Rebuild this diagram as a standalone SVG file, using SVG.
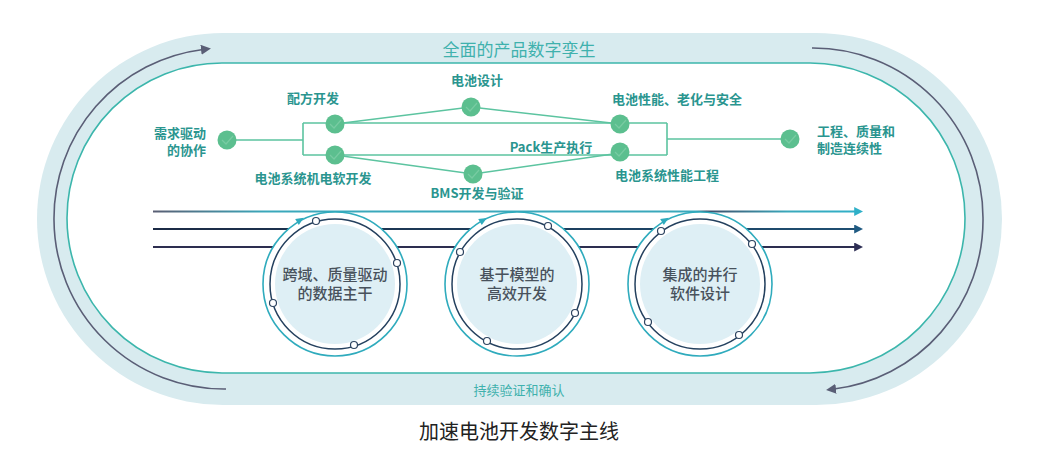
<svg xmlns="http://www.w3.org/2000/svg" width="1054" height="471" viewBox="0 0 1054 471">
<defs>
<style>
.lbl{font-family:"Noto Sans CJK SC","Noto Sans",sans-serif;font-size:13px;font-weight:700;fill:#2a958f}
.ctxt{font-family:"Noto Sans CJK SC","Noto Sans",sans-serif;font-size:15px;font-weight:500;fill:#48525c;text-anchor:middle}
.band{font-family:"Noto Sans CJK SC","Noto Sans",sans-serif;fill:#3fb1ad;text-anchor:middle}
.flow{fill:none;stroke:#5cc4a0;stroke-width:1.6}
.node{fill:#5cbf8f}
.chk{fill:none;stroke:#78cba2;stroke-width:1.2}
.arc{fill:none;stroke:#5a5e76;stroke-width:1.6}
.ring{fill:#fff;stroke:#2fabbd;stroke-width:1.6}
.dring{fill:none;stroke:#24405e;stroke-width:1.5}
.core{fill:#deeff5}
.dot{fill:#fff;stroke:#2d4460;stroke-width:1.2}
.tip{fill:#2fabbd}
</style>
<marker id="mGray" viewBox="0 0 10 10" refX="2" refY="5" markerWidth="10" markerHeight="10" markerUnits="userSpaceOnUse" orient="auto"><path d="M0,0 L10,5 L0,10 z" fill="#5a5e76"/></marker>
<marker id="mTeal" viewBox="0 0 10 10" refX="2" refY="5" markerWidth="9" markerHeight="9" markerUnits="userSpaceOnUse" orient="auto"><path d="M0,0 L10,5 L0,10 z" fill="#2fb0c8"/></marker>
<marker id="mBlue" viewBox="0 0 10 10" refX="2" refY="5" markerWidth="9" markerHeight="9" markerUnits="userSpaceOnUse" orient="auto"><path d="M0,0 L10,5 L0,10 z" fill="#1f5a82"/></marker>
<marker id="mNavy" viewBox="0 0 10 10" refX="2" refY="5" markerWidth="9" markerHeight="9" markerUnits="userSpaceOnUse" orient="auto"><path d="M0,0 L10,5 L0,10 z" fill="#2e2f55"/></marker>
<linearGradient id="gTop" gradientUnits="userSpaceOnUse" x1="153" y1="0" x2="858" y2="0">
<stop offset="0" stop-color="#5a5e73"/>
<stop offset="0.16" stop-color="#3aa8bb"/>
<stop offset="0.77" stop-color="#3aa8bb"/>
<stop offset="0.785" stop-color="#3d4b68"/>
<stop offset="0.9" stop-color="#3aa8bb"/>
<stop offset="1" stop-color="#2fb0c8"/>
</linearGradient>
<linearGradient id="gMid" gradientUnits="userSpaceOnUse" x1="153" y1="0" x2="858" y2="0">
<stop offset="0" stop-color="#1b2a45"/>
<stop offset="1" stop-color="#1f4f72"/>
</linearGradient>
</defs>

<g id="background">
<rect x="37" y="33" width="965" height="372" rx="186" ry="186" fill="#d8ebef"/>
<rect x="67" y="63" width="898" height="310" rx="155" ry="155" fill="#fff" stroke="#3cb6ac" stroke-width="1.6"/>
<text class="band" x="519" y="56" font-size="17">全面的产品数字孪生</text>
<text class="band" x="519" y="395" font-size="13" fill="#4cbcb0">持续验证和确认</text>
</g>

<g id="cycle-arcs">
<path class="arc" d="M226,389 A170,170 0 0 1 54,220 A170,170 0 0 1 203,49.5" marker-end="url(#mGray)"/>
<path class="arc" d="M812,48 A170,170 0 0 1 983,219 A170,170 0 0 1 834,389" marker-end="url(#mGray)"/>
</g>

<g id="connectors">
<path class="flow" d="M227,140 H303 M303,123 V155 M303,123 H667 M303,155 H667 M667,123 V155 M667,139 H790"/>
<path class="flow" d="M335,124 L471,107 L620,124"/>
<path class="flow" d="M335,155 L473,174 L620,153"/>
<line x1="153" y1="211.5" x2="856" y2="211.5" stroke="url(#gTop)" stroke-width="1.8" marker-end="url(#mTeal)"/>
<line x1="153" y1="229" x2="856" y2="229" stroke="url(#gMid)" stroke-width="1.8" marker-end="url(#mBlue)"/>
<line x1="153" y1="247" x2="856" y2="247" stroke="#2d2e50" stroke-width="1.8" marker-end="url(#mNavy)"/>
</g>

<g id="node-demand">
<circle class="node" cx="227" cy="140" r="9.5"/><path class="chk" d="M222,140 L226,144 L233,136"/>
<text class="lbl" x="206" y="138" text-anchor="end">需求驱动</text>
<text class="lbl" x="206" y="155" text-anchor="end">的协作</text>
</g>
<g id="node-formula">
<circle class="node" cx="335" cy="124" r="9.5"/><path class="chk" d="M330,124 L334,128 L341,120"/>
<text class="lbl" x="313" y="103" text-anchor="middle">配方开发</text>
</g>
<g id="node-mech">
<circle class="node" cx="335" cy="155" r="9.5"/><path class="chk" d="M330,155 L334,159 L341,151"/>
<text class="lbl" x="313" y="183" text-anchor="middle">电池系统机电软开发</text>
</g>
<g id="node-design">
<circle class="node" cx="471" cy="107" r="9.5"/><path class="chk" d="M466,107 L470,111 L477,103"/>
<text class="lbl" x="477" y="85" text-anchor="middle">电池设计</text>
</g>
<g id="node-bms">
<circle class="node" cx="473" cy="174" r="9.5"/><path class="chk" d="M468,174 L472,178 L479,170"/>
<text class="lbl" x="477" y="198" text-anchor="middle">BMS开发与验证</text>
</g>
<g id="node-pack">
<text class="lbl" x="551" y="152" text-anchor="middle">Pack生产执行</text>
</g>
<g id="node-perf">
<circle class="node" cx="620" cy="124" r="9.5"/><path class="chk" d="M615,124 L619,128 L626,120"/>
<text class="lbl" x="612" y="104">电池性能、老化与安全</text>
</g>
<g id="node-sysperf">
<circle class="node" cx="620" cy="152" r="9.5"/><path class="chk" d="M615,152 L619,156 L626,148"/>
<text class="lbl" x="615" y="180">电池系统性能工程</text>
</g>
<g id="node-quality">
<circle class="node" cx="790" cy="139" r="9.5"/><path class="chk" d="M785,139 L789,143 L796,135"/>
<text class="lbl" x="817" y="136">工程、质量和</text>
<text class="lbl" x="817" y="153">制造连续性</text>
</g>

<g id="circle-data">
<circle class="ring" cx="335" cy="284" r="72"/>
<path class="tip" d="M0,-3.5 L8,0 L0,3.5 z" transform="translate(297,222) rotate(-31.5)"/>
<circle class="core" cx="335" cy="284" r="60"/>
<circle class="dring" cx="335" cy="284" r="65"/>
<circle class="dot" cx="316" cy="221" r="3.5"/>
<circle class="dot" cx="397" cy="263" r="3.5"/>
<circle class="dot" cx="273" cy="303" r="3.5"/>
<circle class="dot" cx="354" cy="345" r="3.5"/>
<text class="ctxt" x="335" y="280">跨域、质量驱动</text>
<text class="ctxt" x="335" y="299">的数据主干</text>
</g>
<g id="circle-model">
<circle class="ring" cx="517" cy="284" r="72"/>
<path class="tip" d="M0,-3.5 L8,0 L0,3.5 z" transform="translate(480,222) rotate(-31)"/>
<circle class="core" cx="517" cy="284" r="60"/>
<circle class="dring" cx="517" cy="284" r="65"/>
<circle class="dot" cx="548" cy="226" r="3.5"/>
<circle class="dot" cx="460" cy="252" r="3.5"/>
<circle class="dot" cx="575" cy="313" r="3.5"/>
<circle class="dot" cx="487" cy="341" r="3.5"/>
<text class="ctxt" x="517" y="280">基于模型的</text>
<text class="ctxt" x="517" y="299">高效开发</text>
</g>
<g id="circle-software">
<circle class="ring" cx="700" cy="284" r="72"/>
<path class="tip" d="M0,-3.5 L8,0 L0,3.5 z" transform="translate(662,222) rotate(-31.5)"/>
<circle class="core" cx="700" cy="284" r="60"/>
<circle class="dring" cx="700" cy="284" r="65"/>
<circle class="dot" cx="661" cy="231" r="3.5"/>
<circle class="dot" cx="752" cy="244" r="3.5"/>
<circle class="dot" cx="648" cy="322" r="3.5"/>
<circle class="dot" cx="739" cy="335" r="3.5"/>
<text class="ctxt" x="700" y="280">集成的并行</text>
<text class="ctxt" x="700" y="299">软件设计</text>
</g>

<text x="519" y="439" font-family="'Noto Sans CJK SC','Noto Sans',sans-serif" font-size="20" fill="#222" text-anchor="middle">加速电池开发数字主线</text>
</svg>
